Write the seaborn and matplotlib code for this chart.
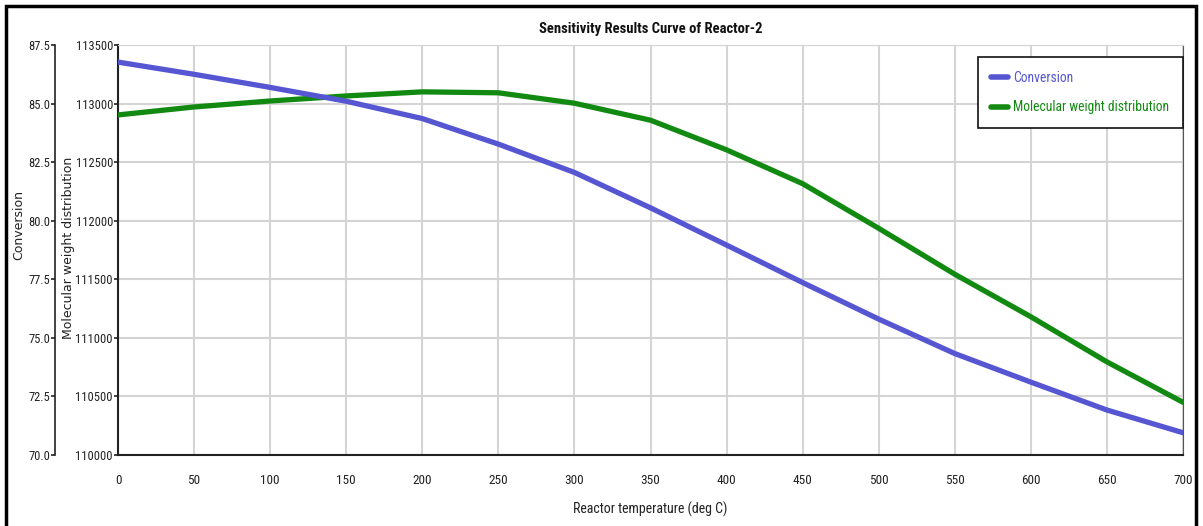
import matplotlib
matplotlib.use("Agg")
import matplotlib.pyplot as plt
from matplotlib import font_manager as fm
import seaborn as sns
import pandas as pd
from matplotlib.patches import Rectangle
from matplotlib.lines import Line2D

temps = [0, 50, 100, 150, 200, 250, 300, 350, 400, 450, 500, 550, 600, 650, 700]
conversion = [86.77, 86.25, 85.69, 85.10, 84.36, 83.27, 82.06, 80.55, 78.96,
              77.36, 75.80, 74.33, 73.11, 71.92, 70.95]
mw_dist = [112903, 112971, 113022, 113065, 113100, 113092, 113003, 112858, 112605,
           112316, 111935, 111543, 111180, 110795, 110450]
x_ticks = list(range(0, 701, 50))
mw_ticks = [110000, 110500, 111000, 111500, 112000, 112500, 113000, 113500]
conv_ticks = [70.0, 72.5, 75.0, 77.5, 80.0, 82.5, 85.0, 87.5]

BLUE = "#5656d2"
GREEN = "#128a12"

sns.set_style("white")

# pick a narrow font if available
names = {f.name for f in fm.fontManager.ttflist}
narrow = None
for cand in ["Liberation Sans Narrow", "Roboto Condensed", "Open Sans Condensed",
             "Noto Sans Condensed"]:
    if cand in names:
        narrow = cand
        break
stretch = "normal"
if narrow is None:
    narrow = "DejaVu Sans"
    stretch = "condensed"
plt.rcParams['font.family'] = [narrow, 'DejaVu Sans']
plt.rcParams['font.stretch'] = stretch

df = pd.DataFrame({"T": temps, "conv": conversion, "mw": mw_dist})

fig = plt.figure(figsize=(12.03, 5.26), dpi=100)
ax = fig.add_axes([118/1203, 1-455/526, (1183-118)/1203, 410/526])
ax2 = ax.twinx()

sns.lineplot(data=df, x="T", y="mw", ax=ax, color=GREEN, linewidth=3.8, zorder=3)
sns.lineplot(data=df, x="T", y="conv", ax=ax2, color=BLUE, linewidth=3.8, zorder=3)

ax.set_xlim(0, 700)
ax.set_ylim(110000, 113500)
ax2.set_ylim(70.0, 87.5)
ax.set_xticks(x_ticks)
ax.set_xticklabels([str(t) for t in x_ticks])
ax.set_yticks(mw_ticks)
ax.set_yticklabels([str(t) for t in mw_ticks])
ax2.set_yticks(conv_ticks)
ax2.set_yticklabels([f"{t:.1f}" for t in conv_ticks])

ax.grid(True, color="#d4d4d4", linewidth=1.5)
ax.set_axisbelow(True)

# conversion axis on the left, offset outward
ax2.yaxis.set_ticks_position("left")
ax2.yaxis.set_label_position("left")
ax2.spines["left"].set_position(("axes", -63/1065))
ax2.spines["left"].set_visible(True)
for s in ["right", "top", "bottom"]:
    ax2.spines[s].set_visible(False)

for s in ["left", "bottom"]:
    ax.spines[s].set_color("#222222")
    ax.spines[s].set_linewidth(1.5)
ax.spines["right"].set_color("#555555")
ax.spines["top"].set_color("#d4d4d4")
ax2.spines["left"].set_color("#222222")
ax2.spines["left"].set_linewidth(1.2)

tick_kw = dict(labelsize=9.5, colors="#222222", length=3, width=1.2, direction="out")
ax.tick_params(axis="both", **tick_kw)
ax2.tick_params(axis="y", **tick_kw)
ax.tick_params(axis="y", pad=0.6, labelsize=9)
ax2.tick_params(axis="y", pad=0.6, labelsize=9)
ax.tick_params(axis="x", pad=11)

ax.set_xlabel("Reactor temperature (deg C)", fontsize=10, color="#222222", labelpad=10)
ax.set_ylabel("Molecular weight distribution", fontsize=9, color="#222222",
              family=["DejaVu Sans"], stretch="normal")
ax.yaxis.set_label_coords(-0.0404, 0.505)
ax2.set_ylabel("Conversion", fontsize=9, color="#222222", family=["DejaVu Sans"],
               stretch="normal")
ax2.yaxis.set_label_coords(-0.0873, 0.56)

ax.set_title("Sensitivity Results Curve of Reactor-2", fontsize=10.5, fontweight="bold",
             color="#111111", pad=9)

handles = [Line2D([], [], color=BLUE, linewidth=4),
           Line2D([], [], color=GREEN, linewidth=4)]
leg = ax2.legend(handles, ["Conversion", "Molecular weight distribution"],
                 loc="upper right", bbox_to_anchor=(1.0, 0.9707), fontsize=9.8,
                 frameon=True, fancybox=False, edgecolor="#111111", framealpha=1,
                 handlelength=1.2, handletextpad=0.4, borderpad=1.0,
                 labelspacing=1.15, borderaxespad=0.0)
leg.get_frame().set_linewidth(1.2)
for txt, c in zip(leg.get_texts(), [BLUE, GREEN]):
    txt.set_color(c)

# outer frame
fig.patches.append(Rectangle((6/1203, -0.05), (1196-6)/1203, 1.05-6/526,
                             transform=fig.transFigure, fill=False,
                             edgecolor="black", linewidth=2.5))

fig.savefig("out.png", dpi=100)
